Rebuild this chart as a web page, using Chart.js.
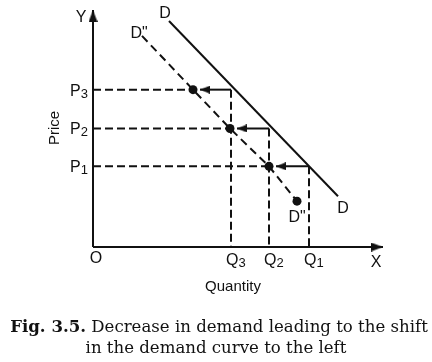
<!DOCTYPE html>
<html><head><meta charset="utf-8">
<script src="https://cdn.jsdelivr.net/npm/chart.js@4/dist/chart.umd.min.js"></script>
<style>html,body{margin:0;padding:0;background:#fff;}#wrap{position:relative;width:432px;height:362px;}</style>
</head><body><div id="wrap"><canvas id="c" width="432" height="362"></canvas></div>
<script>
// ---- data ----
const priceLabels = ['P', 'P', 'P'];
const priceSubs = ['3', '2', '1'];
const priceValues = [158, 119, 81];
const quantityLabels = ['Q', 'Q', 'Q'];
const quantitySubs = ['3', '2', '1'];
const quantityValues = [138, 176, 216];
const shiftedQuantities = [100, 137, 176];       // points on D''
const demandD = [{x: 76, y: 227}, {x: 245, y: 51}];
const demandD2Start = {x: 49, y: 212};
const demandD2End = {x: 204, y: 46};
const axisMax = {x: 290, y: 238};
const xAxisLabel = 'Quantity';
const yAxisLabel = 'Price';
const captionBold = 'Fig. 3.5.';
const captionRest = ' Decrease in demand leading to the shift';
const captionLine2 = 'in the demand curve to the left';

// ---- styles ----
const INK = '#111';
const DASH = [8, 4];
const ARROW_GAP = 7;

function makeArrowHead(w, h) {
  const c = document.createElement('canvas');
  c.width = w; c.height = h * 2;
  const g = c.getContext('2d');
  g.fillStyle = INK;
  g.beginPath();
  g.moveTo(w / 2, h);      // tip at canvas centre
  g.lineTo(w, h * 2);
  g.lineTo(0, h * 2);
  g.closePath();
  g.fill();
  return c;
}
const axisHead = makeArrowHead(9, 12);
const shiftHead = makeArrowHead(8, 10);

function lineDs(data, extra) {
  return Object.assign({
    data, showLine: true, borderColor: INK, borderWidth: 2,
    pointRadius: 0, clip: false, fill: false, tension: 0
  }, extra || {});
}

const datasets = [];
// axes
datasets.push(lineDs([{x: 0, y: 0}, {x: 0, y: axisMax.y}],
  {pointRadius: [0, 6], pointStyle: axisHead, rotation: 0}));
datasets.push(lineDs([{x: 0, y: 0}, {x: axisMax.x, y: 0}],
  {pointRadius: [0, 6], pointStyle: axisHead, rotation: 90}));
// original demand D
datasets.push(lineDs(demandD));
// shifted demand D''
const d2 = [demandD2Start].concat(shiftedQuantities.map((q, i) => ({x: q, y: priceValues[i]}))).concat([demandD2End]);
datasets.push(lineDs(d2, {
  borderDash: [8, 5], pointStyle: 'circle',
  pointRadius: [0, 4.5, 4.5, 4.5, 4.5], pointBackgroundColor: INK, pointBorderWidth: 0
}));
// guides and arrows
priceValues.forEach((p, i) => {
  datasets.push(lineDs([{x: 0, y: p}, {x: shiftedQuantities[i], y: p}], {borderDash: DASH}));
  datasets.push(lineDs([{x: quantityValues[i], y: p}, {x: quantityValues[i], y: 0}], {borderDash: DASH}));
  datasets.push(lineDs([{x: quantityValues[i], y: p}, {x: shiftedQuantities[i] + ARROW_GAP, y: p}],
    {pointRadius: [0, 5], pointStyle: shiftHead, rotation: -90}));
});

const labelPlugin = {
  id: 'labels',
  afterDatasetsDraw(chart) {
    const ctx = chart.ctx;
    const xs = chart.scales.x, ys = chart.scales.y;
    const X = v => xs.getPixelForValue(v), Y = v => ys.getPixelForValue(v);
    const SANS = "'Liberation Sans', Arial, sans-serif";
    ctx.save();
    ctx.fillStyle = INK;
    ctx.textBaseline = 'alphabetic';
    const big = '16px ' + SANS, small = '13px ' + SANS;
    function sub(main, s, x, y, align) {
      ctx.font = big; const w1 = ctx.measureText(main).width;
      ctx.font = small; const w2 = ctx.measureText(s).width;
      let left = x;
      if (align === 'right') left = x - w1 - w2;
      else if (align === 'center') left = x - (w1 + w2) / 2;
      ctx.textAlign = 'left';
      ctx.font = big; ctx.fillText(main, left, y);
      ctx.font = small; ctx.fillText(s, left + w1, y + 2);
    }
    // price ticks
    priceValues.forEach((p, i) => sub(priceLabels[i], priceSubs[i], X(0) - 5, Y(p) + 6, 'right'));
    // quantity ticks
    quantityValues.forEach((q, i) => sub(quantityLabels[i], quantitySubs[i], X(q) - 5, Y(0) + 18, 'left'));
    ctx.font = big; ctx.textAlign = 'center';
    ctx.fillText('O', X(0) + 3, Y(0) + 16);
    ctx.fillText('X', X(axisMax.x) - 7, Y(0) + 20);
    ctx.fillText('Y', X(0) - 12, Y(axisMax.y) + 12);
    // curve labels
    ctx.fillText('D', X(demandD[0].x) - 4, Y(demandD[0].y) - 3);
    ctx.fillText('D', X(demandD[1].x) + 5, Y(demandD[1].y) + 17);
    ctx.fillText('D"', X(demandD2Start.x) - 3, Y(demandD2Start.y) + 2);
    ctx.fillText('D"', X(demandD2End.x), Y(demandD2End.y) + 21);
    // axis titles
    ctx.font = '15px ' + SANS;
    ctx.fillText(xAxisLabel, 233, Y(0) + 44);
    ctx.save();
    ctx.translate(59, 128);
    ctx.rotate(-Math.PI / 2);
    ctx.fillText(yAxisLabel, 0, 0);
    ctx.restore();
    // caption
    const SERIF = "'DejaVu Serif', serif";
    let s = 15;
    ctx.font = 'bold ' + s + 'px ' + SERIF; let wb = ctx.measureText(captionBold).width;
    ctx.font = s + 'px ' + SERIF; let wr = ctx.measureText(captionRest).width;
    s = s * 418 / (wb + wr);
    ctx.font = 'bold ' + s + 'px ' + SERIF; wb = ctx.measureText(captionBold).width;
    ctx.font = s + 'px ' + SERIF; wr = ctx.measureText(captionRest).width;
    const left = 219 - (wb + wr) / 2;
    ctx.textAlign = 'left';
    ctx.font = 'bold ' + s + 'px ' + SERIF; ctx.fillText(captionBold, left, 332);
    ctx.font = s + 'px ' + SERIF; ctx.fillText(captionRest, left + wb, 332);
    ctx.textAlign = 'center';
    ctx.fillText(captionLine2, 216, 353);
    ctx.restore();
  }
};

new Chart(document.getElementById('c'), {
  type: 'scatter',
  data: {datasets},
  options: {
    responsive: false, animation: false,
    layout: {padding: {left: 93, right: 47, top: 7, bottom: 115}},
    plugins: {legend: {display: false}, tooltip: {enabled: false}, title: {display: false}},
    scales: {
      x: {type: 'linear', min: 0, max: 292, display: false},
      y: {type: 'linear', min: 0, max: 240, display: false}
    },
    elements: {line: {borderCapStyle: 'butt'}}
  },
  plugins: [labelPlugin]
});
</script></body></html>
